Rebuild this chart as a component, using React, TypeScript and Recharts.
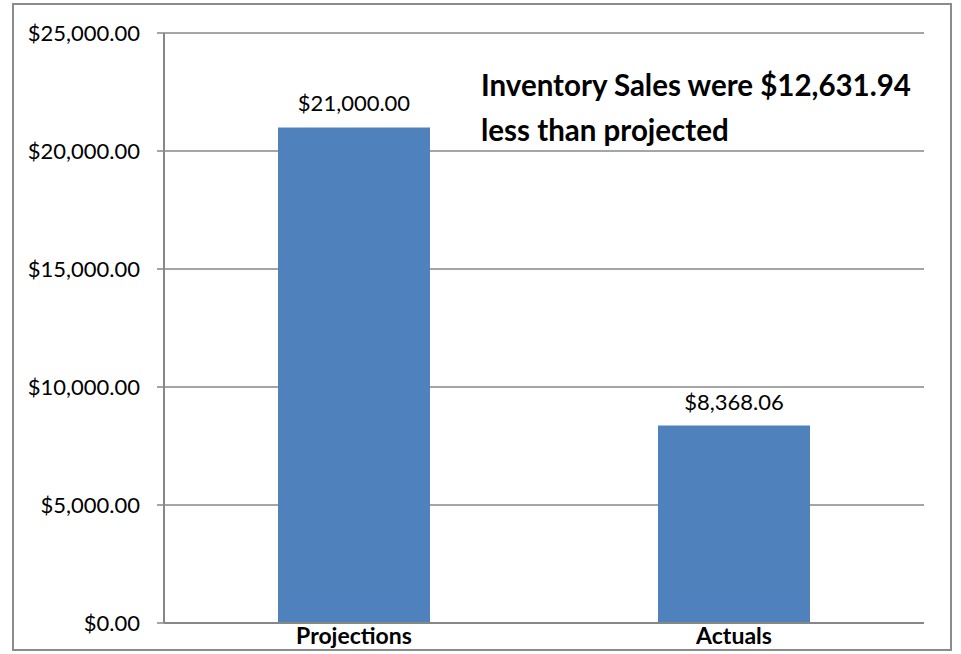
import React from "react";
import { BarChart, Bar, XAxis, YAxis, CartesianGrid, LabelList } from "recharts";

const categories = ["Projections", "Actuals"];
const values = [21000, 8368.06];
const yTicks = [0, 5000, 10000, 15000, 20000, 25000];
const noteLines = ["Inventory Sales were $12,631.94", "less than projected"];

const data = categories.map((c, i) => ({ name: c, value: values[i] }));

const money = (v: number) =>
  "$" + v.toLocaleString("en-US", { minimumFractionDigits: 2, maximumFractionDigits: 2 });

const FONT = "Lato, 'Open Sans', sans-serif";
const GRAY = "#878787";

export default function App() {
  return (
    <div style={{ position: "absolute", left: 0, top: 0, width: 961, height: 654, background: "#fff", fontFamily: FONT }}>
      <div
        style={{
          position: "absolute",
          left: 12,
          top: 3,
          width: 940,
          height: 648,
          border: `2px solid #8c8c8c`,
          boxSizing: "border-box",
        }}
      />
      <BarChart
        width={961}
        height={654}
        data={data}
        margin={{ top: 33, right: 37, bottom: 0, left: 0 }}
        barCategoryGap="30%"
        style={{ position: "absolute", left: 0, top: 0 }}
      >
        <CartesianGrid vertical={false} stroke={GRAY} strokeWidth={1.5} />
        <XAxis
          dataKey="name"
          height={31}
          tickLine={false}
          tickSize={0}
          tickMargin={5}
          axisLine={{ stroke: GRAY, strokeWidth: 2 }}
          tick={{ fill: "#000", fontSize: 23, fontWeight: 700, fontFamily: FONT }}
        />
        <YAxis
          width={164}
          domain={[0, 25000]}
          ticks={yTicks}
          interval={0}
          tickFormatter={money}
          tickSize={7}
          tickMargin={17}
          tickLine={{ stroke: GRAY, strokeWidth: 1.5 }}
          axisLine={{ stroke: GRAY, strokeWidth: 2 }}
          tick={{ fill: "#000", fontSize: 22, fontFamily: FONT }}
        />
        <Bar dataKey="value" fill="#4F81BD" isAnimationActive={false}>
          <LabelList
            dataKey="value"
            position="top"
            offset={16}
            formatter={(v: any) => money(Number(v))}
            style={{ fill: "#000", fontSize: 22, fontFamily: FONT }}
          />
        </Bar>
      </BarChart>
      <div
        style={{
          position: "absolute",
          left: 481,
          top: 62,
          fontSize: 29.5,
          fontWeight: 700,
          lineHeight: "45px",
          color: "#000",
          whiteSpace: "nowrap",
        }}
      >
        {noteLines.map((l) => (
          <div key={l}>{l}</div>
        ))}
      </div>
    </div>
  );
}
